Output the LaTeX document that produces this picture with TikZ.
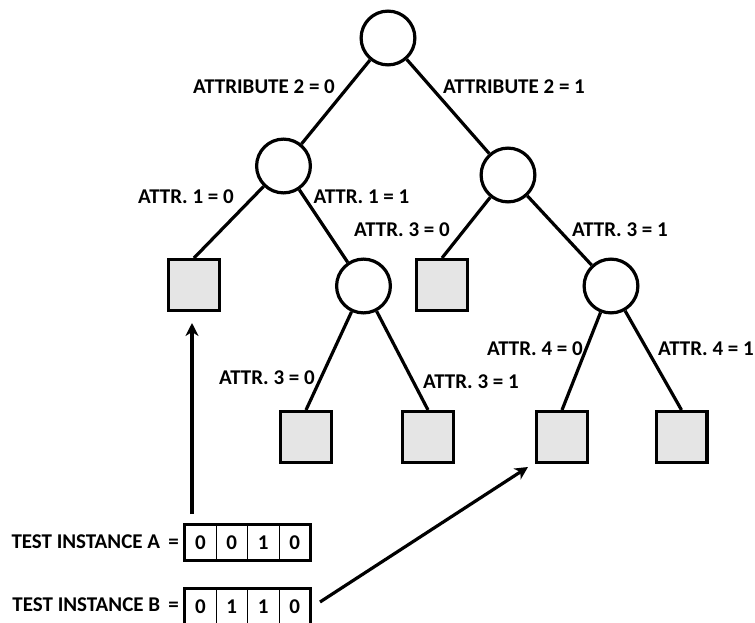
\documentclass[tikz,border=0pt]{standalone}
\usepackage{fontspec}
\setmainfont{Carlito}
\usetikzlibrary{arrows.meta,calc}

\begin{document}
\begin{tikzpicture}[x=1pt,y=-1pt]
% ---------------------------------------------------------
% Dimensions (pixel grid, y grows downwards)
% ---------------------------------------------------------
\def\PicW{755}      % picture width
\def\PicH{623}      % picture height
\def\BoxL{184.6}    % left edge of the attribute vectors
\def\CellW{31.45}   % width of one attribute cell
\def\RowA{542.5}    % centre line of vector A
\def\RowB{606.5}    % centre line of vector B

% ---------------------------------------------------------
% Styles
% ---------------------------------------------------------
\tikzset{
  test node/.style={circle, draw=black, line width=3.2pt, fill=white,
    minimum size=53.8pt, inner sep=0pt},
  leaf node/.style={rectangle, draw=black, line width=3.2pt, fill=gray!20,
    minimum size=50.8pt, inner sep=0pt},
  branch/.style={line width=3.2pt},
  branch text/.style={font=\bfseries\fontsize{21}{24}\selectfont, inner sep=0pt},
  cell/.style={draw=black, line width=0.9pt, minimum width=31.45pt,
    minimum height=35.8pt, inner sep=0pt, font=\bfseries\fontsize{21}{24}\selectfont},
  cell frame/.style={draw=black, line width=3.2pt},
  route/.style={line width=3.2pt, -{Stealth[length=13pt,width=13pt,inset=4pt]}}
}

\useasboundingbox (0,0) rectangle (\PicW,\PicH);

% =========================================================
% 1) TREE NODES
% =========================================================
\node[test node] (root) at (388,38) {};
\node[test node] (attrOneL) at (283.5,166) {};
\node[test node] (attrThreeR) at (508,175) {};

\node[leaf node] (leafA) at (194,285) {};
\node[test node] (attrThreeL) at (363.5,286) {};
\node[leaf node] (leafB) at (442,285) {};
\node[test node] (attrFour) at (611,286) {};

\node[leaf node] (leafC) at (306,437) {};
\node[leaf node] (leafD) at (428,437) {};
\node[leaf node] (leafE) at (562,437) {};
\node[leaf node] (leafF) at (681.5,437) {};

% =========================================================
% 2) BRANCHES
% =========================================================
\draw[branch] (root) -- (attrOneL);
\draw[branch] (root) -- (attrThreeR);
\draw[branch] (attrOneL) -- (leafA.north);
\draw[branch] (attrOneL) -- (attrThreeL);
\draw[branch] (attrThreeR) -- (leafB.north);
\draw[branch] (attrThreeR) -- (attrFour);
\draw[branch] (attrThreeL) -- (leafC.north);
\draw[branch] (attrThreeL) -- (leafD.north);
\draw[branch] (attrFour) -- (leafE.north);
\draw[branch] (attrFour) -- (leafF.north);

% =========================================================
% 3) BRANCH LABELS
% =========================================================
\node[branch text] (lblTwoZero) at (264,87) {ATTRIBUTE 2 = 0};
\node[branch text] (lblTwoOne) at (514,87) {ATTRIBUTE 2 = 1};
\node[branch text] (lblOneZero) at (186,197) {ATTR. 1 = 0};
\node[branch text] (lblOneOne) at (361.5,197) {ATTR. 1 = 1};
\node[branch text] (lblThreeZeroR) at (402,230) {ATTR. 3 = 0};
\node[branch text] (lblThreeOneR) at (620,230) {ATTR. 3 = 1};
\node[branch text] (lblThreeZeroL) at (267,378) {ATTR. 3 = 0};
\node[branch text] (lblThreeOneL) at (471,382) {ATTR. 3 = 1};
\node[branch text] (lblFourZero) at (535,349) {ATTR. 4 = 0};
\node[branch text] (lblFourOne) at (706,349) {ATTR. 4 = 1};

% =========================================================
% 4) TEST INSTANCES (thin cells, thick frame)
% =========================================================
\node[branch text, anchor=east] (nameA) at (179,542) {TEST INSTANCE A \,=};
\foreach \i/\v in {1/0,2/0,3/1,4/0} {
  \node[cell] (cellA\i) at ({\BoxL+(\i-0.5)*\CellW},\RowA) {\v};
}
\draw[cell frame] (cellA1.north west) rectangle (cellA4.south east);

\node[branch text, anchor=east] (nameB) at (179,605) {TEST INSTANCE B \,=};
\foreach \i/\v in {1/0,2/1,3/1,4/0} {
  \node[cell] (cellB\i) at ({\BoxL+(\i-0.5)*\CellW},\RowB) {\v};
}
\draw[cell frame] (cellB1.north west) rectangle (cellB4.south east);

% =========================================================
% 5) CLASSIFICATION PATHS
% =========================================================
\coordinate (startA) at (192,514);
\coordinate (startB) at (320,602);
\draw[route] (startA) -- ($(leafA.south)+(-2,11)$);
\draw[route] (startB) -- ($(leafE.south west)+(-7,3)$);

\end{tikzpicture}
\end{document}
